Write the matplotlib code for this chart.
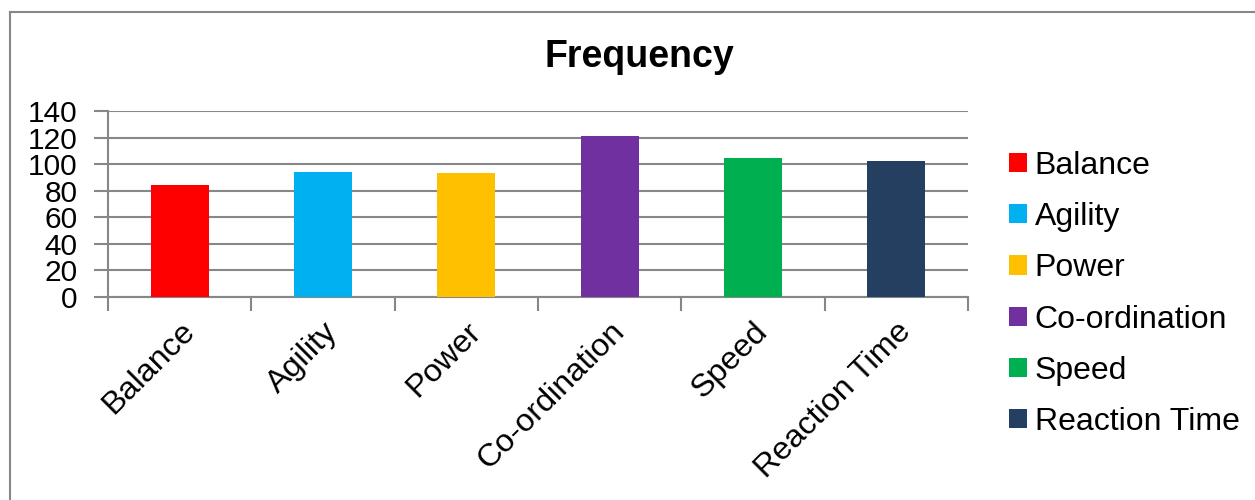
import matplotlib
matplotlib.use('Agg')
import matplotlib.pyplot as plt
import matplotlib.transforms as mtransforms
import numpy as np
from matplotlib.lines import Line2D

# Частота по каждому физическому качеству
categories = ['Balance', 'Agility', 'Power', 'Co-ordination', 'Speed', 'Reaction Time']
frequency = [84, 94, 93, 121, 105, 102]
colors = ['#FF0000', '#00B0F0', '#FFC000', '#7030A0', '#00B050', '#253F60']
y_ticks = [0, 20, 40, 60, 80, 100, 120, 140]

plt.rcParams['font.family'] = ['Liberation Sans', 'DejaVu Sans']
GRID = '#878787'

fig = plt.figure(figsize=(12.55, 5), dpi=100)
ax = fig.add_axes([108 / 1255, 1 - 297 / 500, (968 - 108) / 1255, (297 - 111) / 500])

x = np.arange(len(categories))
bars = ax.bar(x, frequency, width=0.405, color=colors, zorder=3)

ax.set_xlim(-0.5, len(categories) - 0.5)
ax.set_ylim(0, 140)
ax.set_yticks(y_ticks)
ax.set_yticklabels([str(v) for v in y_ticks], fontsize=21.5)
ax.yaxis.grid(True, color=GRID, linewidth=1.5, zorder=0)

# подписи категорий по центрам, засечки — по границам
ax.set_xticks(x)
ax.set_xticklabels(categories, fontsize=23.3, rotation=45, ha='right',
                   va='top', rotation_mode='anchor')
shift = mtransforms.ScaledTranslation(-7 / 100, 0, fig.dpi_scale_trans)
for lbl in ax.get_xticklabels():
    lbl.set_transform(lbl.get_transform() + shift)
ax.set_xticks(np.arange(len(categories) + 1) - 0.5, minor=True)
ax.tick_params(axis='x', which='major', length=0, pad=14)
ax.tick_params(axis='x', which='minor', length=10, width=1.5, color=GRID)
ax.tick_params(axis='y', length=10, width=1.5, color=GRID, pad=12)

for side in ['top', 'right']:
    ax.spines[side].set_visible(False)
for side in ['left', 'bottom']:
    ax.spines[side].set_color(GRID)
    ax.spines[side].set_linewidth(1.5)

fig.text(639 / 1255, 1 - 67 / 500, 'Frequency', ha='center', va='baseline',
         fontsize=27, fontweight='bold')

ax.legend(bars, categories, loc='center left',
          bbox_to_anchor=(1009 / 1255, 1 - 294 / 500), bbox_transform=fig.transFigure,
          frameon=False, fontsize=23, handlelength=0.55, handleheight=0.55,
          handletextpad=0.25, labelspacing=0.665, borderpad=0, borderaxespad=0)

# рамка области диаграммы
fig.add_artist(Line2D([10 / 1255, 10 / 1255], [0, 1 - 12 / 500], color=GRID,
                      linewidth=1.5, transform=fig.transFigure))
fig.add_artist(Line2D([10 / 1255, 1], [1 - 12 / 500, 1 - 12 / 500], color=GRID,
                      linewidth=1.5, transform=fig.transFigure))

fig.savefig('out.png', dpi=100, facecolor='white')
